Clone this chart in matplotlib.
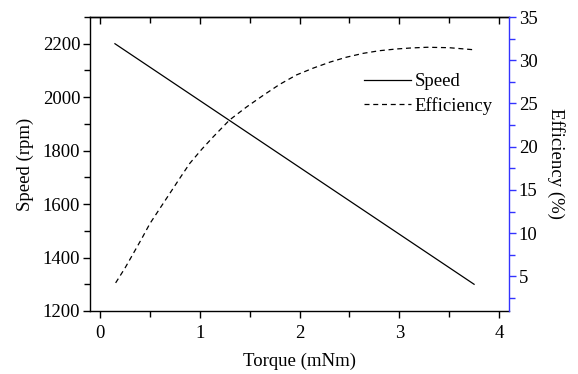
import matplotlib
matplotlib.use("Agg")
import matplotlib.pyplot as plt
from matplotlib.ticker import MultipleLocator, NullFormatter

plt.rcParams['font.family'] = 'serif'
plt.rcParams['font.serif'] = ['Liberation Serif', 'DejaVu Serif']

torque_speed = [0.15, 3.75]
speed = [2200, 1300]

torque_eff = [0.157, 0.25, 0.334, 0.42, 0.50, 0.60, 0.70, 0.80, 0.90, 1.02, 1.136, 1.30, 1.47, 1.64, 1.80, 1.97, 2.14, 2.31, 2.47, 2.64, 2.80, 2.97, 3.12, 3.28, 3.50, 3.76]
efficiency = [4.25, 5.95, 7.65, 9.4, 11.1, 12.85, 14.6, 16.35, 18.07, 19.7, 21.15, 23.1, 24.6, 25.97, 27.2, 28.3, 29.1, 29.8, 30.35, 30.8, 31.1, 31.3, 31.42, 31.5, 31.45, 31.2]

fig = plt.figure(figsize=(5.78, 3.74), dpi=100)
ax = fig.add_axes([90/578, 1-311/374, (509-90)/578, (311-17)/374])
ax2 = ax.twinx()

l1, = ax.plot(torque_speed, speed, color='black', lw=0.9, label='Speed')
l2, = ax2.plot(torque_eff, efficiency, color='black', lw=0.9, ls=(0, (4, 3)), label='Efficiency')

ax.set_xlim(-0.1, 4.1)
ax.set_ylim(1200, 2300)
ax2.set_ylim(1, 35)

ax.xaxis.set_major_locator(MultipleLocator(1))
ax.xaxis.set_minor_locator(MultipleLocator(0.5))
ax.yaxis.set_major_locator(MultipleLocator(200))
ax.yaxis.set_minor_locator(MultipleLocator(100))
ax2.yaxis.set_major_locator(MultipleLocator(5))
ax2.yaxis.set_minor_locator(MultipleLocator(2.5))

fs = 13.5
ax.tick_params(axis='x', which='both', direction='out', top=False, labelsize=fs, width=1, colors='black', pad=5)
ax.tick_params(axis='x', which='major', length=5)
ax.tick_params(axis='x', which='minor', length=4)
ax.tick_params(axis='y', which='both', direction='out', right=False, labelsize=fs, width=1, pad=2)
ax.tick_params(axis='y', which='major', length=5)
ax.tick_params(axis='y', which='minor', length=4)

top = ax.secondary_xaxis('top')
top.xaxis.set_major_locator(MultipleLocator(1))
top.xaxis.set_minor_locator(MultipleLocator(0.5))
top.xaxis.set_major_formatter(NullFormatter())
top.tick_params(axis='x', which='both', direction='in', width=1)
top.tick_params(axis='x', which='major', length=5)
top.tick_params(axis='x', which='minor', length=4)
top.spines['top'].set_linewidth(1)

ax2.tick_params(axis='y', which='both', direction='out', colors='#3333ff', labelcolor='black', labelsize=fs, width=1, pad=2)
ax2.tick_params(axis='y', which='major', length=5)
ax2.tick_params(axis='y', which='minor', length=4)
ax2.spines['right'].set_color('#3333ff')
for sp in ['left', 'top', 'bottom']:
    ax2.spines[sp].set_visible(False)
for sp in ax.spines.values():
    sp.set_linewidth(1)
ax2.spines['right'].set_linewidth(1)
ax.spines['right'].set_visible(False)

ax.set_xlabel('Torque (mNm)', fontsize=fs, labelpad=8)
ax.set_ylabel('Speed (rpm)', fontsize=fs, labelpad=6)
ax2.set_ylabel('Efficiency (%)', fontsize=fs, rotation=-90, labelpad=20)

ax.legend(handles=[l1, l2], loc='upper right', bbox_to_anchor=(0.979, 0.835), frameon=False,
          fontsize=fs, handlelength=2.5, handletextpad=0.2, labelspacing=0.35, borderaxespad=0)

fig.savefig('out.png', dpi=100)
